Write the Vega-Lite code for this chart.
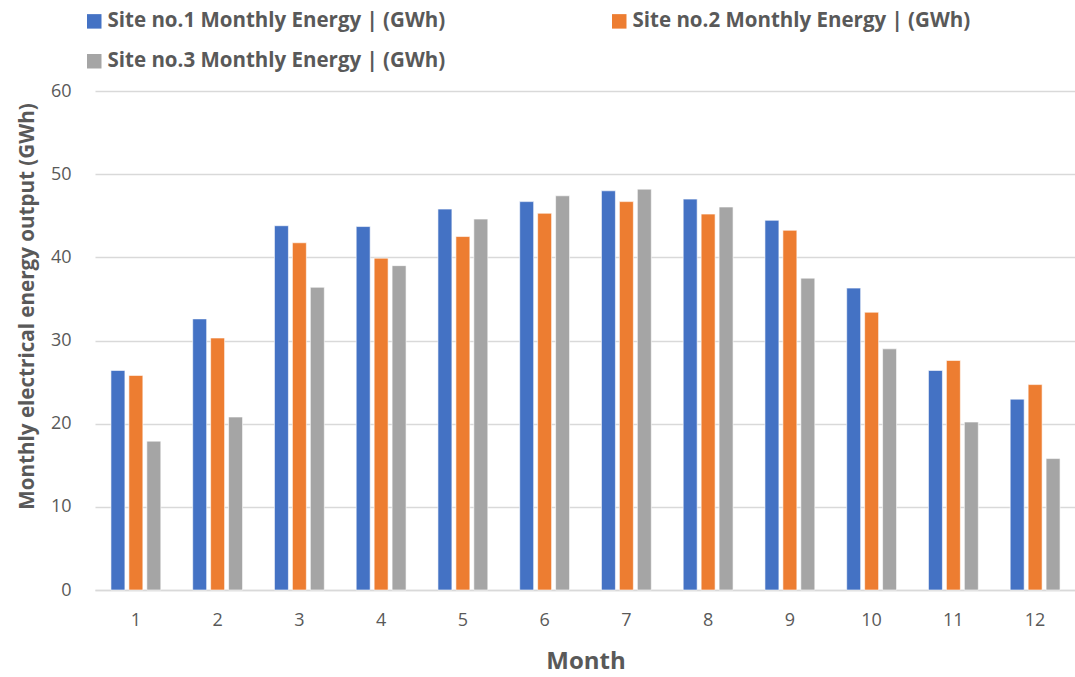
{
  "$schema": "https://vega.github.io/schema/vega-lite/v6.json",
  "width": 981,
  "height": 499,
  "autosize": {"type": "none"},
  "padding": {"left": 95, "top": 91, "right": 0, "bottom": 87},
  "background": "white",
  "config": {
    "font": "Open Sans",
    "view": {"stroke": null}
  },
  "data": {
    "values": [
      {"month": 1, "site": "Site no.1 Monthly Energy | (GWh)", "energy": 26.4},
      {"month": 1, "site": "Site no.2 Monthly Energy | (GWh)", "energy": 25.8},
      {"month": 1, "site": "Site no.3 Monthly Energy | (GWh)", "energy": 17.9},
      {"month": 2, "site": "Site no.1 Monthly Energy | (GWh)", "energy": 32.6},
      {"month": 2, "site": "Site no.2 Monthly Energy | (GWh)", "energy": 30.3},
      {"month": 2, "site": "Site no.3 Monthly Energy | (GWh)", "energy": 20.8},
      {"month": 3, "site": "Site no.1 Monthly Energy | (GWh)", "energy": 43.8},
      {"month": 3, "site": "Site no.2 Monthly Energy | (GWh)", "energy": 41.75},
      {"month": 3, "site": "Site no.3 Monthly Energy | (GWh)", "energy": 36.4},
      {"month": 4, "site": "Site no.1 Monthly Energy | (GWh)", "energy": 43.7},
      {"month": 4, "site": "Site no.2 Monthly Energy | (GWh)", "energy": 39.9},
      {"month": 4, "site": "Site no.3 Monthly Energy | (GWh)", "energy": 39.0},
      {"month": 5, "site": "Site no.1 Monthly Energy | (GWh)", "energy": 45.8},
      {"month": 5, "site": "Site no.2 Monthly Energy | (GWh)", "energy": 42.5},
      {"month": 5, "site": "Site no.3 Monthly Energy | (GWh)", "energy": 44.6},
      {"month": 6, "site": "Site no.1 Monthly Energy | (GWh)", "energy": 46.7},
      {"month": 6, "site": "Site no.2 Monthly Energy | (GWh)", "energy": 45.3},
      {"month": 6, "site": "Site no.3 Monthly Energy | (GWh)", "energy": 47.4},
      {"month": 7, "site": "Site no.1 Monthly Energy | (GWh)", "energy": 48.0},
      {"month": 7, "site": "Site no.2 Monthly Energy | (GWh)", "energy": 46.7},
      {"month": 7, "site": "Site no.3 Monthly Energy | (GWh)", "energy": 48.2},
      {"month": 8, "site": "Site no.1 Monthly Energy | (GWh)", "energy": 47.0},
      {"month": 8, "site": "Site no.2 Monthly Energy | (GWh)", "energy": 45.2},
      {"month": 8, "site": "Site no.3 Monthly Energy | (GWh)", "energy": 46.05},
      {"month": 9, "site": "Site no.1 Monthly Energy | (GWh)", "energy": 44.45},
      {"month": 9, "site": "Site no.2 Monthly Energy | (GWh)", "energy": 43.25},
      {"month": 9, "site": "Site no.3 Monthly Energy | (GWh)", "energy": 37.5},
      {"month": 10, "site": "Site no.1 Monthly Energy | (GWh)", "energy": 36.3},
      {"month": 10, "site": "Site no.2 Monthly Energy | (GWh)", "energy": 33.4},
      {"month": 10, "site": "Site no.3 Monthly Energy | (GWh)", "energy": 29.0},
      {"month": 11, "site": "Site no.1 Monthly Energy | (GWh)", "energy": 26.4},
      {"month": 11, "site": "Site no.2 Monthly Energy | (GWh)", "energy": 27.6},
      {"month": 11, "site": "Site no.3 Monthly Energy | (GWh)", "energy": 20.2},
      {"month": 12, "site": "Site no.1 Monthly Energy | (GWh)", "energy": 22.95},
      {"month": 12, "site": "Site no.2 Monthly Energy | (GWh)", "energy": 24.7},
      {"month": 12, "site": "Site no.3 Monthly Energy | (GWh)", "energy": 15.8}
    ]
  },
  "mark": {"type": "bar", "stroke": "white", "strokeWidth": 0.6},
  "encoding": {
    "x": {
      "field": "month",
      "type": "ordinal",
      "sort": null,
      "scale": {"paddingInner": 0.39, "paddingOuter": 0.195},
      "axis": {
        "title": "Month",
        "titleFontSize": 24,
        "titleFontWeight": "bold",
        "titleColor": "#595959",
        "titlePadding": 20,
        "labelAngle": 0,
        "labelFontSize": 18,
        "labelColor": "#595959",
        "labelPadding": 21,
        "ticks": false,
        "domainColor": "#d9d9d9",
        "domainWidth": 1.5
      }
    },
    "xOffset": {
      "field": "site",
      "scale": {"paddingInner": 0.222, "paddingOuter": 0}
    },
    "y": {
      "field": "energy",
      "type": "quantitative",
      "scale": {"domain": [0, 60], "nice": false},
      "axis": {
        "title": "Monthly electrical energy output (GWh)",
        "titleFontSize": 20.6,
        "titleFontWeight": "bold",
        "titleColor": "#595959",
        "titleX": -58,
        "titleY": 215,
        "values": [0, 10, 20, 30, 40, 50, 60],
        "labelFontSize": 18,
        "labelColor": "#595959",
        "labelPadding": 24,
        "ticks": false,
        "domain": false,
        "gridColor": "#d9d9d9",
        "gridWidth": 1.5
      }
    },
    "color": {
      "field": "site",
      "type": "nominal",
      "scale": {"range": ["#4472C4", "#ED7D31", "#A5A5A5"]},
      "legend": {
        "title": null,
        "orient": "none",
        "legendX": -11,
        "legendY": -80,
        "columns": 2,
        "columnPadding": 163,
        "rowPadding": 19,
        "values": [
          "Site no.1 Monthly Energy | (GWh)",
          "Site no.3 Monthly Energy | (GWh)",
          "Site no.2 Monthly Energy | (GWh)"
        ],
        "symbolType": "square",
        "symbolSize": 210,
        "symbolStrokeWidth": 0,
        "labelOffset": 3,
        "labelFontSize": 20.5,
        "labelFontWeight": "bold",
        "labelColor": "#595959",
        "labelLimit": 600
      }
    }
  }
}
